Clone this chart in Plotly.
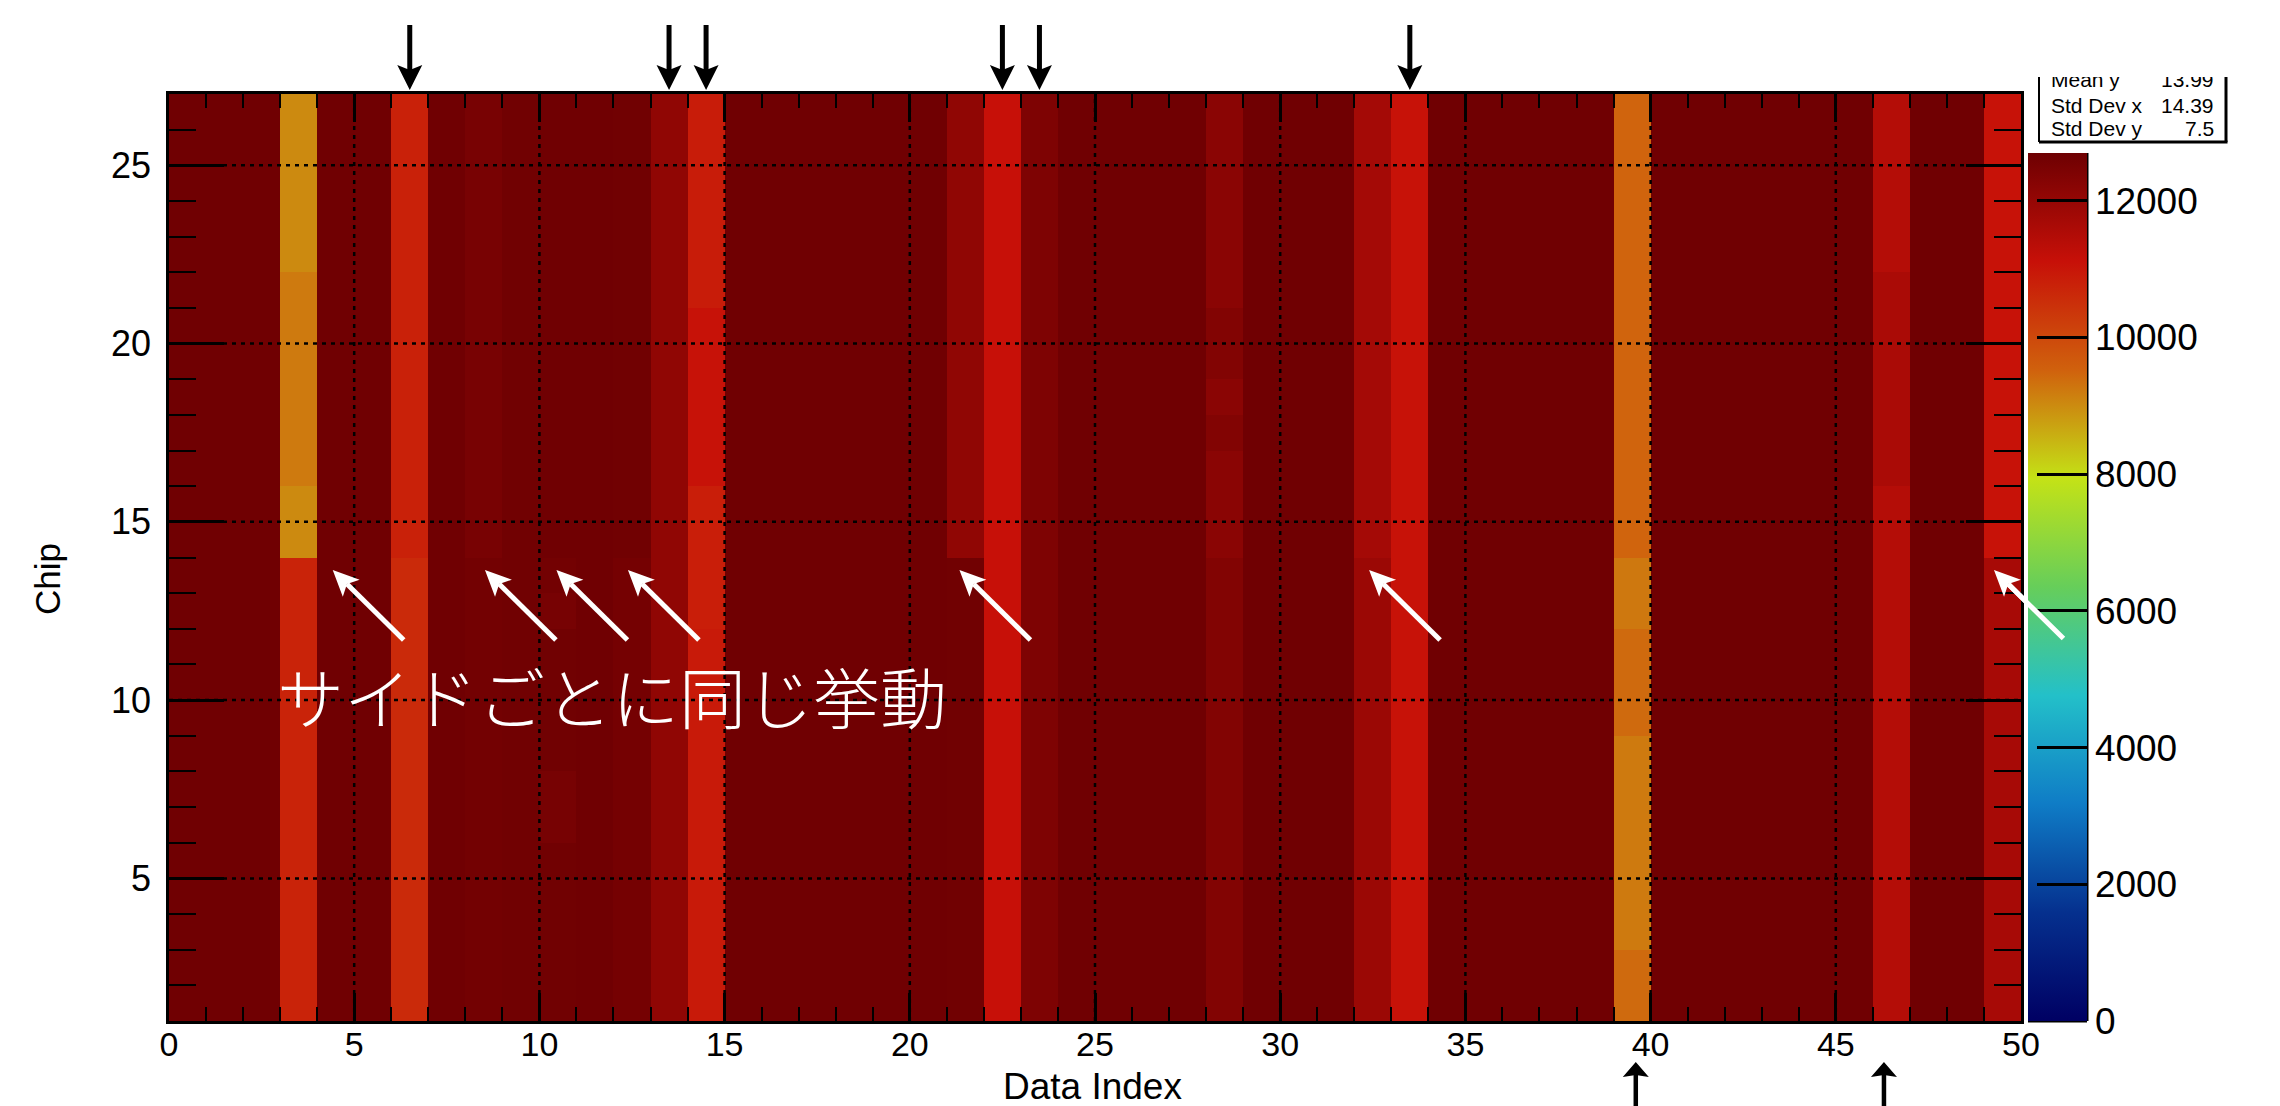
import math
import plotly.graph_objects as go

# ---------------------------------------------------------------- data
# bin edges of the 2D histogram
index_edges = list(range(0, 51))   # Data Index 0..50
chip_edges = list(range(1, 28))    # Chip 1..27

# bin contents, one row per chip bin (chip 1 at the bottom), 50 data-index bins each
counts = [
    [12670, 12670, 12670, 10740, 12670, 12670, 10603, 12670, 12611, 12640, 12640, 12670, 12570, 12093, 10917, 12670, 12670, 12670, 12670, 12670, 12670, 12650, 11113, 12420, 12670, 12670, 12670, 12670, 12343, 12670, 12670, 12670, 11897, 11073, 12670, 12670, 12670, 12670, 12670, 9414, 12670, 12670, 12670, 12670, 12670, 12670, 11452, 12670, 12670, 11680],
    [12670, 12670, 12670, 10740, 12670, 12670, 10603, 12670, 12611, 12640, 12640, 12670, 12570, 12093, 10917, 12670, 12670, 12670, 12670, 12670, 12670, 12650, 11113, 12420, 12670, 12670, 12670, 12670, 12343, 12670, 12670, 12670, 11897, 11073, 12670, 12670, 12670, 12670, 12670, 9414, 12670, 12670, 12670, 12670, 12670, 12670, 11452, 12670, 12670, 11680],
    [12670, 12670, 12670, 10740, 12670, 12670, 10603, 12670, 12611, 12640, 12640, 12670, 12570, 12093, 10917, 12670, 12670, 12670, 12670, 12670, 12670, 12650, 11113, 12420, 12670, 12670, 12670, 12670, 12343, 12670, 12670, 12670, 11897, 11073, 12670, 12670, 12670, 12670, 12670, 9218, 12670, 12670, 12670, 12670, 12670, 12670, 11452, 12670, 12670, 11680],
    [12670, 12670, 12670, 10740, 12670, 12670, 10603, 12670, 12611, 12640, 12640, 12670, 12570, 12093, 10917, 12670, 12670, 12670, 12670, 12670, 12670, 12650, 11113, 12420, 12670, 12670, 12670, 12670, 12343, 12670, 12670, 12670, 11897, 11073, 12670, 12670, 12670, 12670, 12670, 9218, 12670, 12670, 12670, 12670, 12670, 12670, 11452, 12670, 12670, 11680],
    [12670, 12670, 12670, 10740, 12670, 12670, 10603, 12670, 12611, 12640, 12640, 12670, 12570, 12093, 10917, 12670, 12670, 12670, 12670, 12670, 12670, 12650, 11113, 12420, 12670, 12670, 12670, 12670, 12343, 12670, 12670, 12670, 11897, 11073, 12670, 12670, 12670, 12670, 12670, 9218, 12670, 12670, 12670, 12670, 12670, 12670, 11452, 12670, 12670, 11680],
    [12670, 12670, 12670, 10740, 12670, 12670, 10603, 12670, 12611, 12640, 12540, 12670, 12570, 12093, 10917, 12670, 12670, 12670, 12670, 12670, 12670, 12650, 11113, 12420, 12670, 12670, 12670, 12670, 12343, 12670, 12670, 12670, 11897, 11073, 12670, 12670, 12670, 12670, 12670, 9218, 12670, 12670, 12670, 12670, 12670, 12670, 11452, 12670, 12670, 11680],
    [12670, 12670, 12670, 10740, 12670, 12670, 10603, 12670, 12611, 12640, 12540, 12670, 12570, 12093, 10917, 12670, 12670, 12670, 12670, 12670, 12670, 12650, 11113, 12420, 12670, 12670, 12670, 12670, 12343, 12670, 12670, 12670, 11897, 11073, 12670, 12670, 12670, 12670, 12670, 9218, 12670, 12670, 12670, 12670, 12670, 12670, 11452, 12670, 12670, 11680],
    [12670, 12670, 12670, 10740, 12670, 12670, 10603, 12670, 12611, 12640, 12640, 12670, 12570, 12093, 10917, 12670, 12670, 12670, 12670, 12670, 12670, 12650, 11113, 12420, 12670, 12670, 12670, 12670, 12343, 12670, 12670, 12670, 11897, 11073, 12670, 12670, 12670, 12670, 12670, 9218, 12670, 12670, 12670, 12670, 12670, 12670, 11452, 12670, 12670, 11680],
    [12670, 12670, 12670, 10740, 12670, 12670, 10603, 12670, 12611, 12640, 12640, 12670, 12570, 12093, 10917, 12670, 12670, 12670, 12670, 12670, 12670, 12650, 11113, 12420, 12670, 12670, 12670, 12670, 12343, 12670, 12670, 12670, 11897, 11073, 12670, 12670, 12670, 12670, 12670, 9414, 12670, 12670, 12670, 12670, 12670, 12670, 11452, 12670, 12670, 11680],
    [12670, 12670, 12670, 10740, 12670, 12670, 10603, 12670, 12611, 12640, 12640, 12670, 12570, 12093, 10917, 12670, 12670, 12670, 12670, 12670, 12670, 12650, 11113, 12420, 12670, 12670, 12670, 12670, 12343, 12670, 12670, 12670, 11897, 11073, 12670, 12670, 12670, 12670, 12670, 9414, 12670, 12670, 12670, 12670, 12670, 12670, 11452, 12670, 12670, 11680],
    [12670, 12670, 12670, 10740, 12670, 12670, 10603, 12670, 12611, 12640, 12640, 12670, 12570, 12093, 10917, 12670, 12670, 12670, 12670, 12670, 12670, 12650, 11113, 12420, 12670, 12670, 12670, 12670, 12343, 12670, 12670, 12670, 11897, 11073, 12670, 12670, 12670, 12670, 12670, 9414, 12670, 12670, 12670, 12670, 12670, 12670, 11452, 12670, 12670, 11680],
    [12670, 12670, 12670, 10740, 12670, 12670, 10603, 12670, 12611, 12640, 12540, 12670, 12570, 12093, 10838, 12670, 12670, 12670, 12670, 12670, 12670, 12650, 11113, 12420, 12670, 12670, 12670, 12670, 12343, 12670, 12670, 12670, 11897, 11073, 12670, 12670, 12670, 12670, 12670, 9242, 12670, 12670, 12670, 12670, 12670, 12670, 11452, 12670, 12670, 11680],
    [12670, 12670, 12670, 10740, 12670, 12670, 10603, 12670, 12611, 12640, 12610, 12670, 12570, 12093, 10838, 12670, 12670, 12670, 12670, 12670, 12670, 12650, 11113, 12420, 12670, 12670, 12670, 12670, 12343, 12670, 12670, 12670, 11897, 11073, 12670, 12670, 12670, 12670, 12670, 9242, 12670, 12670, 12670, 12670, 12670, 12670, 11452, 12670, 12670, 11680],
    [12670, 12670, 12670, 9021, 12670, 12670, 10780, 12670, 12522, 12640, 12670, 12670, 12640, 12093, 10838, 12670, 12670, 12670, 12670, 12670, 12670, 12093, 11113, 12420, 12670, 12670, 12670, 12670, 12201, 12670, 12670, 12670, 11737, 11073, 12670, 12670, 12670, 12670, 12670, 9488, 12670, 12670, 12670, 12670, 12670, 12670, 11452, 12670, 12670, 11073],
    [12670, 12670, 12670, 9021, 12670, 12670, 10780, 12670, 12522, 12640, 12670, 12670, 12640, 12093, 10838, 12670, 12670, 12670, 12670, 12670, 12670, 12093, 11113, 12420, 12670, 12670, 12670, 12670, 12201, 12670, 12670, 12670, 11737, 11073, 12670, 12670, 12670, 12670, 12670, 9488, 12670, 12670, 12670, 12670, 12670, 12670, 11452, 12670, 12670, 11073],
    [12670, 12670, 12670, 9218, 12670, 12670, 10780, 12670, 12522, 12640, 12670, 12670, 12640, 12093, 11073, 12670, 12670, 12670, 12670, 12670, 12670, 12093, 11113, 12420, 12670, 12670, 12670, 12670, 12201, 12670, 12670, 12670, 11737, 11073, 12670, 12670, 12670, 12670, 12670, 9488, 12670, 12670, 12670, 12670, 12670, 12670, 11629, 12670, 12670, 11073],
    [12670, 12670, 12670, 9218, 12670, 12670, 10780, 12670, 12522, 12640, 12670, 12670, 12640, 12093, 11073, 12670, 12670, 12670, 12670, 12670, 12670, 12093, 11113, 12420, 12670, 12670, 12670, 12670, 12343, 12670, 12670, 12670, 11737, 11073, 12670, 12670, 12670, 12670, 12670, 9488, 12670, 12670, 12670, 12670, 12670, 12670, 11629, 12670, 12670, 11073],
    [12670, 12670, 12670, 9218, 12670, 12670, 10780, 12670, 12522, 12640, 12670, 12670, 12640, 12093, 11073, 12670, 12670, 12670, 12670, 12670, 12670, 12093, 11113, 12420, 12670, 12670, 12670, 12670, 12201, 12670, 12670, 12670, 11737, 11073, 12670, 12670, 12670, 12670, 12670, 9488, 12670, 12670, 12670, 12670, 12670, 12670, 11629, 12670, 12670, 11073],
    [12670, 12670, 12670, 9218, 12670, 12670, 10780, 12670, 12522, 12640, 12670, 12670, 12640, 12093, 11073, 12670, 12670, 12670, 12670, 12670, 12670, 12093, 11113, 12420, 12670, 12670, 12670, 12670, 12343, 12670, 12670, 12670, 11737, 11073, 12670, 12670, 12670, 12670, 12670, 9488, 12670, 12670, 12670, 12670, 12670, 12670, 11629, 12670, 12670, 11073],
    [12670, 12670, 12670, 9218, 12670, 12670, 10780, 12670, 12522, 12640, 12670, 12670, 12640, 12093, 11073, 12670, 12670, 12670, 12670, 12670, 12670, 12093, 11113, 12420, 12670, 12670, 12670, 12670, 12343, 12670, 12670, 12670, 11737, 11073, 12670, 12670, 12670, 12670, 12670, 9488, 12670, 12670, 12670, 12670, 12670, 12670, 11629, 12670, 12670, 11073],
    [12670, 12670, 12670, 9218, 12670, 12670, 10780, 12670, 12522, 12640, 12670, 12670, 12640, 12093, 10877, 12670, 12670, 12670, 12670, 12670, 12670, 12093, 11113, 12420, 12670, 12670, 12670, 12670, 12201, 12670, 12670, 12670, 11737, 11073, 12670, 12670, 12670, 12670, 12670, 9488, 12670, 12670, 12670, 12670, 12670, 12670, 11629, 12670, 12670, 11073],
    [12670, 12670, 12670, 9021, 12670, 12670, 10780, 12670, 12522, 12640, 12670, 12670, 12640, 12093, 10877, 12670, 12670, 12670, 12670, 12670, 12670, 12093, 11113, 12420, 12670, 12670, 12670, 12670, 12201, 12670, 12670, 12670, 11737, 11073, 12670, 12670, 12670, 12670, 12670, 9488, 12670, 12670, 12670, 12670, 12670, 12670, 11452, 12670, 12670, 11073],
    [12670, 12670, 12670, 9021, 12670, 12670, 10780, 12670, 12522, 12640, 12670, 12670, 12640, 12093, 10877, 12670, 12670, 12670, 12670, 12670, 12670, 12093, 11113, 12420, 12670, 12670, 12670, 12670, 12201, 12670, 12670, 12670, 11737, 11073, 12670, 12670, 12670, 12670, 12670, 9488, 12670, 12670, 12670, 12670, 12670, 12670, 11452, 12670, 12670, 11073],
    [12670, 12670, 12670, 9021, 12670, 12670, 10780, 12670, 12522, 12640, 12670, 12670, 12640, 12093, 10877, 12670, 12670, 12670, 12670, 12670, 12670, 12093, 11113, 12420, 12670, 12670, 12670, 12670, 12201, 12670, 12670, 12670, 11737, 11073, 12670, 12670, 12670, 12670, 12670, 9488, 12670, 12670, 12670, 12670, 12670, 12670, 11452, 12670, 12670, 11073],
    [12670, 12670, 12670, 9021, 12670, 12670, 10780, 12670, 12522, 12640, 12670, 12670, 12640, 12093, 10877, 12670, 12670, 12670, 12670, 12670, 12670, 12093, 11113, 12420, 12670, 12670, 12670, 12670, 12201, 12670, 12670, 12670, 11737, 11073, 12670, 12670, 12670, 12670, 12670, 9488, 12670, 12670, 12670, 12670, 12670, 12670, 11452, 12670, 12670, 11073],
    [12670, 12670, 12670, 9021, 12670, 12670, 10780, 12670, 12522, 12640, 12670, 12670, 12640, 12093, 10877, 12670, 12670, 12670, 12670, 12670, 12670, 12093, 11113, 12420, 12670, 12670, 12670, 12670, 12201, 12670, 12670, 12670, 11737, 11073, 12670, 12670, 12670, 12670, 12670, 9488, 12670, 12670, 12670, 12670, 12670, 12670, 11452, 12670, 12670, 11073],
]

index_ticks = [0, 5, 10, 15, 20, 25, 30, 35, 40, 45, 50]
chip_ticks = [5, 10, 15, 20, 25]
count_ticks = [0, 2000, 4000, 6000, 8000, 10000, 12000]
count_max = 12700

# rainbow palette (position, r, g, b)
palette = [
    (0.000, 0, 0, 99),
    (0.125, 5, 48, 142),
    (0.250, 15, 124, 198),
    (0.375, 35, 192, 201),
    (0.500, 102, 206, 90),
    (0.625, 196, 226, 22),
    (0.750, 208, 97, 13),
    (0.875, 199, 16, 8),
    (1.000, 110, 0, 2),
]

stats_labels = ["Mean y", "Std Dev x", "Std Dev y"]
stats_values = ["13.99", "14.39", "7.5"]

note_text = "サイドごとに同じ挙動"
top_marks = [6.5, 13.5, 14.5, 22.5, 23.5, 33.5]      # columns flagged from above
bottom_marks = [39.6, 46.3]                          # columns flagged from below
edge_marks = [4.42, 8.53, 10.46, 12.39, 21.34, 32.4, 49.27]   # chip-14 boundary pointers
edge_chip = 13.65

# ---------------------------------------------------------------- geometry
W, H = 2280, 1106
L, R, T, B = 169, 2021, 94, 1021
X0, X1 = index_edges[0], index_edges[-1]
Y0, Y1 = chip_edges[0], chip_edges[-1]

FONT = "Liberation Sans, Arial, Helvetica, sans-serif"


def px_x(v):
    return L + (v - X0) / (X1 - X0) * (R - L)


def px_y(v):
    return B - (v - Y0) / (Y1 - Y0) * (B - T)


def to_paper(px, py):
    return (px - L) / (R - L), (B - py) / (B - T)


def arrow(tip, tail, head_len, head_half, notch, width, color):
    tx, ty = tip
    sx, sy = tail
    dx, dy = sx - tx, sy - ty
    n = math.hypot(dx, dy)
    ux, uy = dx / n, dy / n
    nx, ny = -uy, ux
    bx, by = tx + ux * head_len, ty + uy * head_len
    inner = head_len - notch
    pts = [
        (tx, ty),
        (bx + nx * head_half, by + ny * head_half),
        (tx + ux * inner, ty + uy * inner),
        (bx - nx * head_half, by - ny * head_half),
    ]
    coords = []
    for p in pts:
        a, b = to_paper(*p)
        coords.append(f"{a:.6f},{b:.6f}")
    head = dict(type="path", path="M " + " L ".join(coords) + " Z",
                xref="paper", yref="paper", fillcolor=color,
                line=dict(width=0), layer="above")
    p0 = to_paper(tx + ux * inner, ty + uy * inner)
    p1 = to_paper(sx, sy)
    shaft = dict(type="line", x0=p0[0], y0=p0[1], x1=p1[0], y1=p1[1],
                 xref="paper", yref="paper",
                 line=dict(color=color, width=width), layer="above")
    return [shaft, head]


colorscale = [[s, f"rgb({r},{g},{b})"] for s, r, g, b in palette]

fig = go.Figure()
fig.add_trace(go.Heatmap(
    x=index_edges, y=chip_edges, z=counts,
    zmin=0, zmax=count_max, colorscale=colorscale, zsmooth=False,
    hoverinfo="skip",
    colorbar=dict(
        thickness=59, thicknessmode="pixels",
        len=868, lenmode="pixels",
        x=(2028 - L) / (R - L), xanchor="left", xpad=0,
        y=0, yanchor="bottom", ypad=0,
        outlinewidth=0,
        tickmode="array", tickvals=count_ticks,
        ticktext=[str(v) for v in count_ticks],
        ticks="inside", ticklen=50, tickwidth=2.5, tickcolor="black",
        tickfont=dict(family=FONT, size=37, color="black"),
    ),
))

shapes = []
# dotted grid over the cells
for v in index_ticks[1:-1]:
    shapes.append(dict(type="line", x0=v, x1=v, y0=Y0, y1=Y1, xref="x", yref="y",
                       line=dict(color="black", width=2.5, dash="4px,5px"), layer="above"))
for v in chip_ticks:
    shapes.append(dict(type="line", x0=X0, x1=X1, y0=v, y1=v, xref="x", yref="y",
                       line=dict(color="black", width=2.5, dash="4px,5px"), layer="above"))

# palette frame (right and bottom edges)
cb_l, cb_r, cb_t = 2028, 2087, 153
a0 = to_paper(cb_r, cb_t)
a1 = to_paper(cb_r, B)
a2 = to_paper(cb_l, B)
shapes.append(dict(type="line", x0=a0[0], y0=a0[1], x1=a1[0], y1=a1[1], xref="paper", yref="paper",
                   line=dict(color="black", width=3)))
shapes.append(dict(type="line", x0=a2[0], y0=a2[1], x1=a1[0], y1=a1[1], xref="paper", yref="paper",
                   line=dict(color="black", width=3)))

# statistics box
sb_l, sb_r, sb_t, sb_b = 2039, 2226, 77, 142
p_lt, p_lb = to_paper(sb_l, sb_t), to_paper(sb_l, sb_b)
p_rt, p_rb = to_paper(sb_r, sb_t), to_paper(sb_r, sb_b)
shapes.append(dict(type="line", x0=p_lt[0], y0=p_lt[1], x1=p_lb[0], y1=p_lb[1], xref="paper", yref="paper",
                   line=dict(color="black", width=2)))
shapes.append(dict(type="line", x0=p_rt[0], y0=p_rt[1], x1=p_rb[0], y1=p_rb[1], xref="paper", yref="paper",
                   line=dict(color="black", width=3)))
shapes.append(dict(type="line", x0=p_lb[0], y0=p_lb[1], x1=p_rb[0] + 1.5 / (R - L), y1=p_rb[1], xref="paper", yref="paper",
                   line=dict(color="black", width=3)))

# pointers
for m in top_marks:
    shapes += arrow((px_x(m), 90), (px_x(m), 25), 25, 12.5, 5, 5, "black")
for m in bottom_marks:
    shapes += arrow((px_x(m), 1062), (px_x(m), 1112), 15, 13, 2, 4.5, "black")
for m in edge_marks:
    tip = (px_x(m), px_y(edge_chip))
    shapes += arrow(tip, (tip[0] + 71, tip[1] + 70), 26, 12, 6, 5, "white")

annotations = []
# axis titles
annotations.append(dict(text="Data Index", x=(1092 - L) / (R - L), y=(B - 1086) / (B - T),
                        xref="paper", yref="paper", showarrow=False, xanchor="center", yanchor="middle",
                        font=dict(family=FONT, size=37, color="black")))
annotations.append(dict(text="Chip", x=(47 - L) / (R - L), y=(B - 579) / (B - T), textangle=-90,
                        xref="paper", yref="paper", showarrow=False, xanchor="center", yanchor="middle",
                        font=dict(family=FONT, size=35, color="black")))
# note on the map
annotations.append(dict(text=note_text, x=11.95, y=10.15, xref="x", yref="y", showarrow=False,
                        xanchor="center", yanchor="middle",
                        font=dict(family="Noto Sans CJK JP", size=67, color="white", weight=300)))
# the last pointer's shaft crosses the palette, keep it on top
last_tip = (px_x(edge_marks[-1]), px_y(edge_chip))
n45 = math.hypot(71, 70)
inner_pt = (last_tip[0] + 71 * 20 / n45, last_tip[1] + 70 * 20 / n45)
ip = to_paper(*inner_pt)
annotations.append(dict(text="", x=ip[0], y=ip[1], xref="paper", yref="paper",
                        ax=71 * (1 - 20 / n45), ay=70 * (1 - 20 / n45),
                        showarrow=True, arrowhead=0, arrowwidth=5, arrowcolor="white",
                        standoff=0, startstandoff=0))

# statistics text
stat_rows = [79, 105, 128]
for lab, val, py in zip(stats_labels, stats_values, stat_rows):
    yy = (B - py) / (B - T)
    annotations.append(dict(text=lab, x=(2049 - L) / (R - L), y=yy, xref="paper", yref="paper",
                            showarrow=False, xanchor="left", yanchor="middle",
                            font=dict(family=FONT, size=21, color="black")))
    annotations.append(dict(text=val, x=(2216 - L) / (R - L), y=yy, xref="paper", yref="paper",
                            showarrow=False, xanchor="right", yanchor="middle",
                            font=dict(family=FONT, size=21, color="black")))
# the statistics box is cut off at its top edge
annotations.append(dict(text="", x=(2030 - L) / (R - L), y=(B - sb_t) / (B - T), xref="paper", yref="paper",
                        showarrow=False, xanchor="left", yanchor="bottom", width=210, height=60,
                        bgcolor="white", borderpad=0, borderwidth=0))

fig.update_layout(
    width=W, height=H,
    margin=dict(l=L, r=W - R, t=T, b=H - B, pad=0, autoexpand=False),
    paper_bgcolor="white", plot_bgcolor="white",
    showlegend=False,
    shapes=shapes, annotations=annotations,
    xaxis=dict(range=[X0, X1], tickmode="linear", tick0=0, dtick=5,
               ticks="inside", ticklen=28, tickwidth=2.5, tickcolor="black",
               minor=dict(dtick=1, ticks="inside", ticklen=14, tickwidth=2, tickcolor="black"),
               showline=True, linewidth=2.5, linecolor="black", mirror="ticks",
               showgrid=False, zeroline=False, layer="above traces",
               tickfont=dict(family=FONT, size=34, color="black"), ticklabelstandoff=-9),
    yaxis=dict(range=[Y0, Y1], tickmode="linear", tick0=0, dtick=5,
               ticks="inside", ticklen=55, tickwidth=2.5, tickcolor="black",
               minor=dict(dtick=1, ticks="inside", ticklen=27, tickwidth=2, tickcolor="black"),
               showline=True, linewidth=2.5, linecolor="black", mirror="ticks",
               showgrid=False, zeroline=False, layer="above traces",
               tickfont=dict(family=FONT, size=36, color="black"), ticklabelstandoff=8),
)

fig.write_html("out.html")
